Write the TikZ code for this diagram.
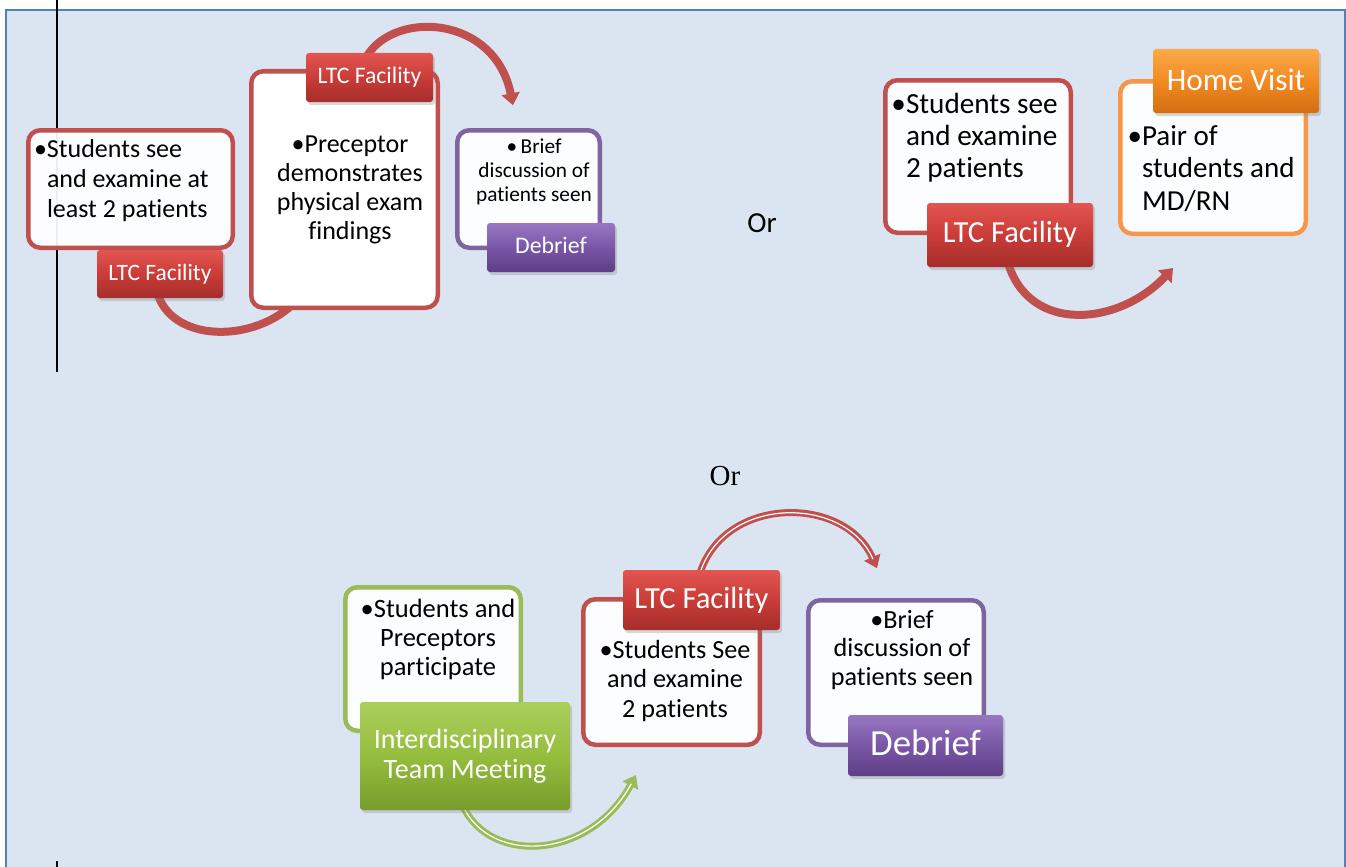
\documentclass[tikz,border=0pt]{standalone}
\usepackage{fontspec}
\setmainfont{Carlito}[Ligatures=NoCommon]
\newfontfamily\orserif{Liberation Serif}
\usetikzlibrary{arrows.meta,shadows,calc}
\pgfdeclarelayer{back}
\pgfdeclarelayer{arrows}
\pgfsetlayers{back,arrows,main}
\definecolor{panelfill}{HTML}{DBE5F1}
\definecolor{panelline}{HTML}{4F81BD}
\definecolor{redline}{HTML}{C0504D}
\definecolor{purpleline}{HTML}{8064A2}
\definecolor{orangeline}{HTML}{F79646}
\definecolor{greenline}{HTML}{9BBB59}
\definecolor{redtop}{HTML}{E25550}
\definecolor{redmid}{HTML}{C93C38}
\definecolor{redbot}{HTML}{A52E2B}
\definecolor{purtop}{HTML}{9877C2}
\definecolor{purmid}{HTML}{7A57A6}
\definecolor{purbot}{HTML}{5E3E87}
\definecolor{ortop}{HTML}{FBAA4A}
\definecolor{ormid}{HTML}{F28A22}
\definecolor{orbot}{HTML}{D26F12}
\definecolor{grtop}{HTML}{ABCF5C}
\definecolor{grmid}{HTML}{95BD3D}
\definecolor{grbot}{HTML}{789C2C}
\newcommand\myfs[2]{\fontsize{#1pt}{#2pt}\selectfont}
\begin{document}
\begin{tikzpicture}[x=1pt,y=-1pt,
  box/.style={rectangle,rounded corners=12pt,line width=4.5pt,fill=white,fill opacity=0.93,inner sep=0pt,outer sep=0pt},
  tab/.style={rectangle,rounded corners=3pt,inner sep=0pt,outer sep=0pt,text=white,
    drop shadow={shadow xshift=2pt,shadow yshift=-3pt,opacity=0.3}},
  redtab/.style={tab,top color=redtop,bottom color=redbot,middle color=redmid},
  purtab/.style={tab,top color=purtop,bottom color=purbot,middle color=purmid},
  ortab/.style={tab,top color=ortop,bottom color=orbot,middle color=ormid},
  grtab/.style={tab,top color=grtop,bottom color=grbot,middle color=grmid},
  txt/.style={inner sep=0pt,outer sep=0pt,text=black},
  solidarr/.style={draw=redline,line width=8pt,-{Triangle[width=18pt,length=12pt]}},
  outarr/.style={line width=7pt,-{Triangle[width=17pt,length=12pt]}},
  inarr/.style={draw=white,line width=1.2pt,shorten >=10pt}
]
\useasboundingbox (0,0) rectangle (1346,867);
\begin{pgfonlayer}{back}
  \fill[panelfill] (6,10) rectangle (1345,867);
  \draw[panelline,line width=2pt] (6,867) -- (6,10) -- (1345,10) -- (1345,867);
  \draw[black,line width=2pt] (57,0) -- (57,372);
  \draw[black,line width=2pt] (57,861) -- (57,867);
\end{pgfonlayer}

% boxes
\node[box,draw=redline,minimum width=204.5pt,minimum height=117.5pt] (bA) at (130.5,189) {};
\node[box,draw=redline,fill opacity=1,minimum width=186.5pt,minimum height=236.5pt] (bB) at (344.5,189.5) {};
\node[box,draw=purpleline,minimum width=142.5pt,minimum height=117.5pt] (bC) at (528.5,189) {};
\node[box,draw=redline,minimum width=185.5pt,minimum height=152.5pt] (bD) at (978,156.5) {};
\node[box,draw=orangeline,minimum width=185.5pt,minimum height=152.5pt] (bE) at (1213,157.5) {};
\node[box,draw=greenline,minimum width=175.5pt,minimum height=143.5pt] (bF) at (433,659) {};
\node[box,draw=redline,minimum width=176.5pt,minimum height=145.5pt] (bG) at (671.5,672) {};
\node[box,draw=purpleline,minimum width=175.5pt,minimum height=144.5pt] (bH) at (896,672.5) {};

% box texts (anchored at the baseline of the last line)
\node[txt,anchor=base west,align=left,font=\myfs{26}{30}] (Atxt) at (47,217) {\llap{•}Students see\\and examine at\\least 2 patients};
\node[txt,anchor=base,align=center,font=\myfs{26}{29}] (Btxt) at (350,239) {•Preceptor\\demonstrates\\physical exam\\findings};
\node[txt,anchor=base,align=center,font=\myfs{21.3}{24}] (Ctxt) at (534,201) {•\,Brief\\discussion of\\patients seen};
\node[txt,anchor=base west,align=left,font=\myfs{29.2}{32}] (Dtxt) at (906,177) {\llap{•}Students see\\and examine\\2 patients};
\node[txt,anchor=base west,align=left,font=\myfs{29}{32.5}] (Etxt) at (1142,210) {\llap{•}Pair of\\students and\\MD/RN};
\node[txt,anchor=base,align=center,font=\myfs{26.5}{29}] (Ftxt) at (438,675) {•Students and\\Preceptors\\participate};
\node[txt,anchor=base,align=center,font=\myfs{26.2}{29.5}] (Gtxt) at (675,717) {•Students See\\and examine\\2 patients};
\node[txt,anchor=base,align=center,font=\myfs{26.2}{28.5}] (Htxt) at (902,685) {•Brief\\discussion of\\patients seen};

% tabs
\node[redtab,minimum width=126pt,minimum height=48pt,font=\myfs{23.5}{28},text height=12pt,text depth=0pt] (tA) at (160,274) {LTC Facility};
\node[redtab,minimum width=127pt,minimum height=49pt,font=\myfs{23.7}{28},text height=13pt,text depth=0pt] (tB) at (369.5,77.5) {LTC Facility};
\node[purtab,minimum width=128pt,minimum height=49pt,font=\myfs{23.8}{28},text height=11pt,text depth=0pt] (tC) at (551,247.5) {Debrief};
\node[redtab,minimum width=166pt,minimum height=64pt,font=\myfs{30.6}{36},text height=14pt,text depth=0pt] (tD) at (1010,235) {LTC Facility};
\node[ortab,minimum width=166pt,minimum height=64pt,font=\myfs{31.3}{36},text height=18pt,text depth=0pt] (tE) at (1236,81) {Home Visit};
\node[grtab,minimum width=210pt,minimum height=108pt,align=center,font=\myfs{28}{30}] (tF) at (465,756) {Interdisciplinary\\Team Meeting};
\node[redtab,minimum width=157pt,minimum height=60pt,font=\myfs{30.6}{36},text height=16pt,text depth=0pt] (tG) at (701.5,600) {LTC Facility};
\node[purtab,minimum width=155pt,minimum height=61pt,font=\myfs{36.8}{42},text height=19pt,text depth=0pt] (tH) at (925.5,745.5) {Debrief};

% Or labels
\node[txt,anchor=base,font=\myfs{29}{34}] (or1) at (762,232) {Or};
\node[txt,anchor=base,font=\orserif\myfs{29}{34}] (or2) at (725,485) {Or};

% connectors
\begin{pgfonlayer}{arrows}
  \draw[solidarr] ([xshift=-2pt,yshift=3pt]tA.south) .. controls +(17,50) and +(-45,55) .. ([xshift=56pt,yshift=20pt]bB.south west);
  \draw[solidarr] ([xshift=-2.5pt,yshift=-3pt]tB.north) .. controls +(28,-46) and +(-18,-90) .. ([xshift=-15.5pt,yshift=25pt]bC.north);
  \draw[solidarr] ([xshift=-2pt,yshift=4pt]tD.south) .. controls +(22,72) and +(-53,57) .. ([xshift=52.75pt,yshift=-34.25pt]bE.south west);
  \draw[outarr,draw=redline] ([xshift=-1.5pt,yshift=-3pt]tG.north) .. controls +(25,-78) and +(-32,-73) .. ([xshift=-19pt,yshift=32pt]bH.north);
  \draw[inarr] ([xshift=-1.5pt,yshift=-3pt]tG.north) .. controls +(25,-78) and +(-32,-73) .. ([xshift=-19pt,yshift=32pt]bH.north);
  \draw[outarr,draw=greenline] ([xshift=-2pt,yshift=4pt]tF.south) .. controls +(27,59) and +(-46,85) .. ([xshift=52.75pt,yshift=-30.25pt]bG.south west);
  \draw[inarr] ([xshift=-2pt,yshift=4pt]tF.south) .. controls +(27,59) and +(-46,85) .. ([xshift=52.75pt,yshift=-30.25pt]bG.south west);
\end{pgfonlayer}
\end{tikzpicture}
\end{document}
